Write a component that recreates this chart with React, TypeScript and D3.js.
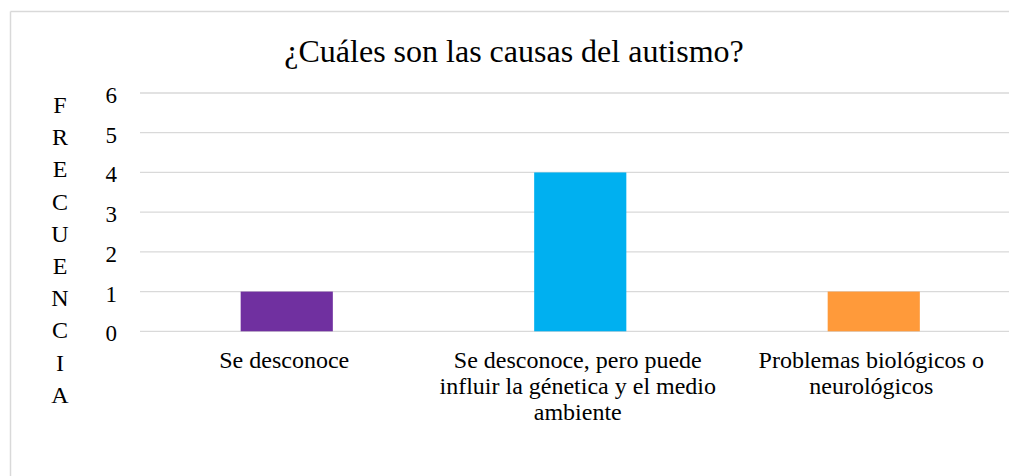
import React from "react";
import * as d3 from "d3";

const title = "¿Cuáles son las causas del autismo?";
const categories = [
  "Se desconoce",
  "Se desconoce, pero puede\ninfluir la génetica y el medio\nambiente",
  "Problemas biológicos o\nneurológicos",
];
const values = [1, 4, 1];
const colors = ["#7030A0", "#00B0F0", "#FF9A3A"];
const yTicks = [0, 1, 2, 3, 4, 5, 6];
const yAxisLabel = "FRECUENCIA";

const W = 1009;
const H = 476;
const FONT = "'Liberation Serif', 'Times New Roman', serif";

export default function App() {
  const x = d3
    .scaleBand<string>()
    .domain(categories)
    .range([140, 1020.5])
    .paddingInner(0.686)
    .paddingOuter(0.343);
  const y = d3.scaleLinear().domain([0, 6]).range([331.3, 93]);

  return (
    <svg
      width={W}
      height={H}
      style={{ position: "absolute", left: 0, top: 0, background: "#fff", fontFamily: FONT, overflow: "hidden" }}
    >
      <rect x={0} y={0} width={W} height={H} fill="#fff" />
      <line x1={10.5} x2={W} y1={11.5} y2={11.5} stroke="#d9d9d9" strokeWidth={1.5} />
      <line x1={10.5} x2={10.5} y1={11.5} y2={H} stroke="#d9d9d9" strokeWidth={1.5} />
      <text
        x={514}
        y={62}
        textAnchor="middle"
        fontSize={32}
        fill="#000"
        style={{ fontFamily: FONT }}
      >
        {title}
      </text>
      {yTicks.map((t) => (
        <g key={t}>
          <line
            x1={140}
            x2={1020.5}
            y1={y(t)}
            y2={y(t)}
            stroke="#d9d9d9"
            strokeWidth={1.3}
          />
          <text
            x={117}
            y={y(t) + 10}
            textAnchor="end"
            fontSize={23}
            fill="#000"
            style={{ fontFamily: FONT }}
          >
            {t}
          </text>
        </g>
      ))}
      {values.map((v, i) => (
        <rect
          key={i}
          x={x(categories[i])}
          y={y(v)}
          width={x.bandwidth()}
          height={y(0) - y(v)}
          fill={colors[i]}
        />
      ))}
      {categories.map((c) => {
        const lines = c.split("\n");
        const cx = (x(c) ?? 0) + x.bandwidth() / 2 - 2.5;
        return (
          <text
            key={c}
            textAnchor="middle"
            fontSize={24}
            fill="#000"
            style={{ fontFamily: FONT }}
          >
            {lines.map((l, j) => (
              <tspan key={j} x={cx} y={368 + j * 26}>
                {l}
              </tspan>
            ))}
          </text>
        );
      })}
      <text
        textAnchor="middle"
        fontSize={24}
        fill="#000"
        style={{ fontFamily: FONT }}
      >
        {yAxisLabel.split("").map((ch, j) => (
          <tspan key={j} x={60} y={113 + j * 32.2}>
            {ch}
          </tspan>
        ))}
      </text>
    </svg>
  );
}
